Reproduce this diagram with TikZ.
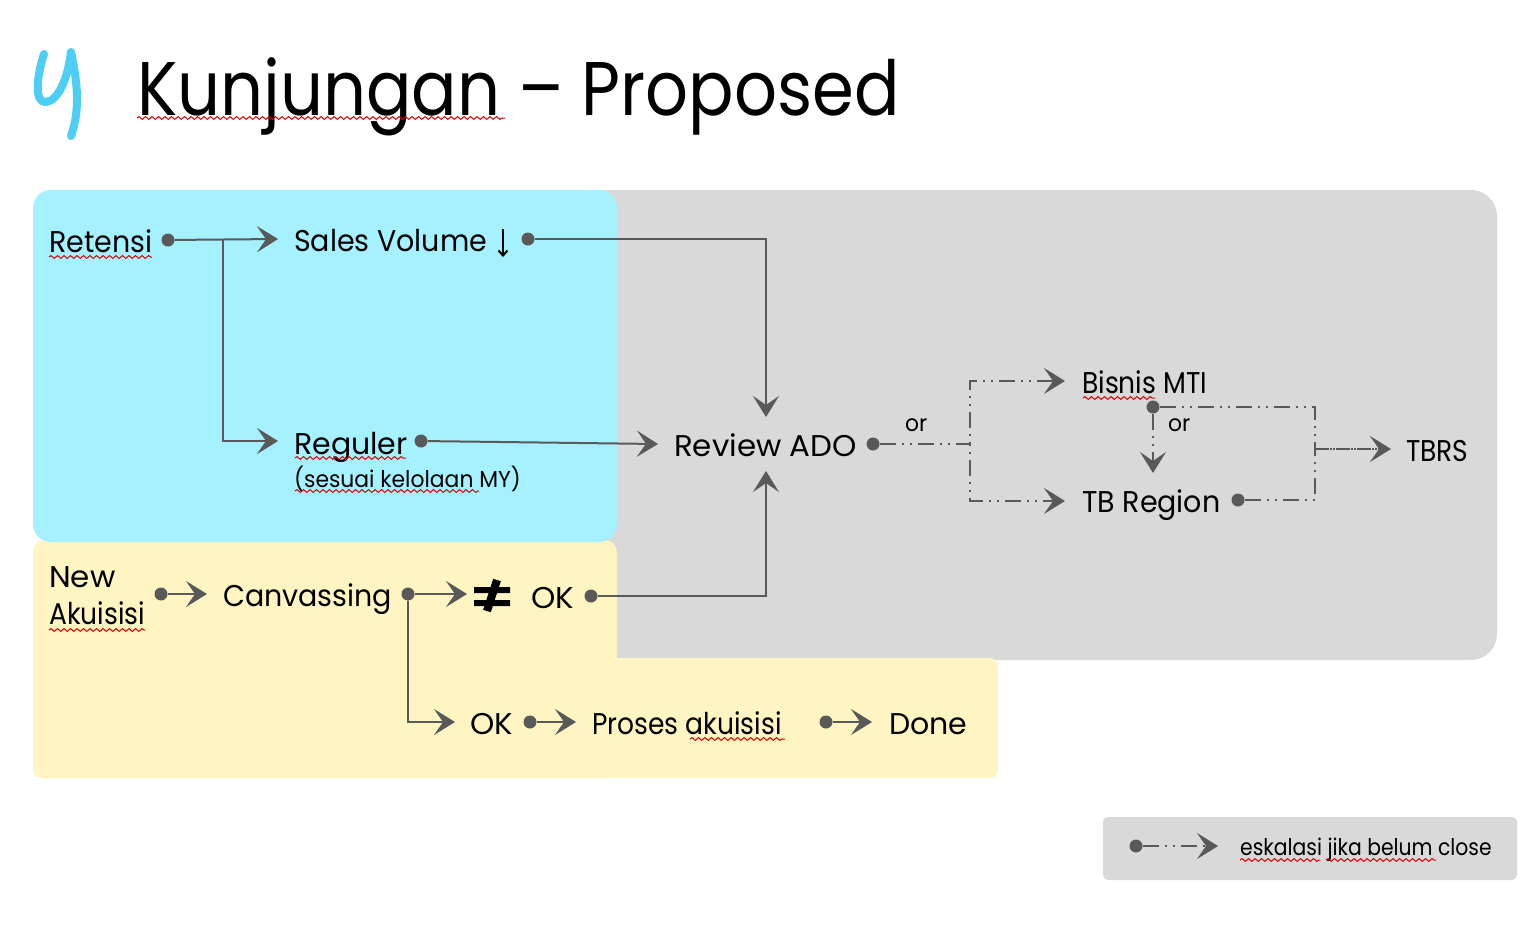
\documentclass[tikz,border=0pt]{standalone}
\usepackage{fontspec}
\setmainfont[FakeStretch=0.95]{Poppins}
\newfontfamily\tightfont[FakeStretch=0.885]{Poppins}
\newfontfamily\wideish[FakeStretch=1.03]{Poppins}
\newfontfamily\evenfont{Poppins}
\usetikzlibrary{arrows.meta,decorations.pathmorphing}
\definecolor{blueback}{HTML}{A5F1FF}
\definecolor{yellowback}{HTML}{FFF5C2}
\definecolor{greyback}{HTML}{D9D9D9}
\definecolor{linegrey}{HTML}{595959}
\definecolor{logoblue}{HTML}{4DCFF5}
\tikzset{
    lbl/.style={inner sep=0pt,anchor=base west,font=\fontsize{30}{34}\selectfont,text=black},
    small/.style={inner sep=0pt,anchor=base west,font=\fontsize{23}{27}\selectfont,text=black},
    dot/.style={circle,fill=linegrey,inner sep=0pt,minimum size=13pt},
    flow/.style={draw=linegrey,line width=2pt,-{Stealth[length=21pt,width=26pt,inset=9pt]}},
    plain/.style={draw=linegrey,line width=2pt},
    esc/.style={flow,dash pattern=on 16pt off 6pt on 2pt off 6pt on 2pt off 6pt},
    escplain/.style={plain,dash pattern=on 16pt off 6pt on 2pt off 6pt on 2pt off 6pt},
    squiggle/.style={draw=red!85!black,line width=1pt,decorate,decoration={snake,amplitude=1.4pt,segment length=6.5pt}}
}
\begin{document}
\begin{tikzpicture}[x=1pt,y=-1pt]
    \useasboundingbox (0,0) rectangle (1532,946);
    % backgrounds
    \fill[white] (0,0) rectangle (1532,946);
    \fill[greyback,rounded corners=26pt] (300,190) rectangle (1497,660);
    \fill[yellowback,rounded corners=12pt] (33,540) rectangle (617,778);
    \fill[yellowback,rounded corners=8pt] (33,658) rectangle (998,778);
    \fill[blueback,rounded corners=18pt] (33,190) rectangle (617,542);
    \fill[greyback,rounded corners=5pt] (1103,817) rectangle (1517,880);
    % logo
    \draw[logoblue,line width=8pt,line cap=round,line join=round] (44,54) .. controls (37,75) and (34,102) .. (45,102) .. controls (58,102) and (68,78) .. (71,52) .. controls (78,85) and (80,110) .. (71,136);
    % title
    \node[inner sep=0pt,anchor=base west,font=\tightfont\fontsize{76}{80}\selectfont] (nTitle) at (137,115) {Kunjungan – Proposed};
    % labels
    \node[lbl] (nRetensi) at (49,252) {Retensi};
    \node[lbl] (nSales) at (294,251) {Sales Volume};
    \node[lbl] (nReguler) at (294,454) {\evenfont Reguler};
    \node[small] (nKelolaan) at (294,487) {(sesuai kelolaan MY)};
    \node[lbl] (nNew) at (49,587) {\wideish New};
    \node[lbl] (nAkuisisi) at (49,624) {\tightfont Akuisisi};
    \node[lbl] (nCanvassing) at (223,606) {Canvassing};
    \node[lbl] (nOkTop) at (531,608) {\wideish OK};
    \node[lbl] (nOkLow) at (470,734) {\wideish OK};
    \node[lbl] (nProses) at (592,734) {\tightfont Proses akuisisi};
    \node[lbl] (nDone) at (889,734) {\evenfont Done};
    \node[lbl] (nReview) at (674,456) {\wideish Review ADO};
    \node[small] (nOrA) at (905,431) {or};
    \node[lbl] (nBisnis) at (1082,393) {\tightfont Bisnis MTI};
    \node[small] (nOrB) at (1168,431) {or};
    \node[lbl] (nRegion) at (1082,512) {TB Region};
    \node[lbl] (nTbrs) at (1406,461) {\tightfont TBRS};
    \node[small] (nLegend) at (1240,855) {\tightfont eskalasi jika belum close};
    % spell check marks
    \draw[squiggle] (49,257) -- (152,257);
    \draw[squiggle] (295,458) -- (406,458);
    \draw[squiggle] (295,491) -- (479,491);
    \draw[squiggle] (49,630) -- (145,630);
    \draw[squiggle] (690,739) -- (785,739);
    \draw[squiggle] (1083,398) -- (1155,398);
    \draw[squiggle] (1240,860) -- (1320,860);
    \draw[squiggle] (1326,860) -- (1436,860);
    \draw[squiggle] (137,118) -- (505,118);
    % dots
    \node[dot] (dRetensi) at (168,240) {};
    \node[dot] (dSales) at (528,239) {};
    \node[dot] (dReguler) at (421,441) {};
    \node[dot] (dNew) at (161,594) {};
    \node[dot] (dCanvassing) at (408,594) {};
    \node[dot] (dOkTop) at (591,596) {};
    \node[dot] (dOkLow) at (530,722) {};
    \node[dot] (dProses) at (826,722) {};
    \node[dot] (dReview) at (873,444) {};
    \node[dot] (dBisnis) at (1153,407) {};
    \node[dot] (dRegion) at (1238,500) {};
    \node[dot] (dLegend) at (1136,846) {};
    % turning points and free ends
    \coordinate (cBranch) at (223,240);
    \coordinate (cJoin) at (970,444);
    \coordinate (cMerge) at (1315,449);
    \coordinate (cLegendEnd) at (1218,846);
    % arrow for sales volume
    \coordinate (cDown) at (503,243);
    \draw[black,line width=2pt,-{Straight Barb[length=5pt,width=9pt]}] (cDown) ++(0,-14) -- ++(0,28);
    % not equal sign
    \fill[black] (474,587) rectangle (510,593) (474,600) rectangle (510,606);
    \draw[black,line width=8pt] (497,580) -- (487,611);
    % connectors
    \draw[flow] (dRetensi) -- (278,239);
    \draw[flow] (cBranch) |- (278,441);
    \draw[flow] (dSales) -| (766,417);
    \draw[flow] (dReguler) -- (658,444);
    \draw[flow] (dNew) -- (207,594);
    \draw[flow] (dCanvassing) -- (467,594);
    \draw[flow] (dCanvassing) |- (455,722);
    \draw[flow] (dOkTop) -| (766,471);
    \draw[flow] (dOkLow) -- (576,722);
    \draw[flow] (dProses) -- (872,722);
    \draw[escplain] (dReview) -- (cJoin);
    \draw[esc,dash phase=22pt] (cJoin) |- (1065,381);
    \draw[esc,dash phase=22pt] (cJoin) |- (1065,501);
    \draw[esc] (dBisnis) -- (1153,473);
    \draw[escplain] (dBisnis) -| (cMerge);
    \draw[escplain] (dRegion) -| (cMerge);
    \draw[flow,dash pattern=on 14pt off 1pt on 2pt off 1pt on 2pt off 1pt] (cMerge) -- (1391,449);
    \draw[esc] (dLegend) -- (cLegendEnd);
\end{tikzpicture}
\end{document}
